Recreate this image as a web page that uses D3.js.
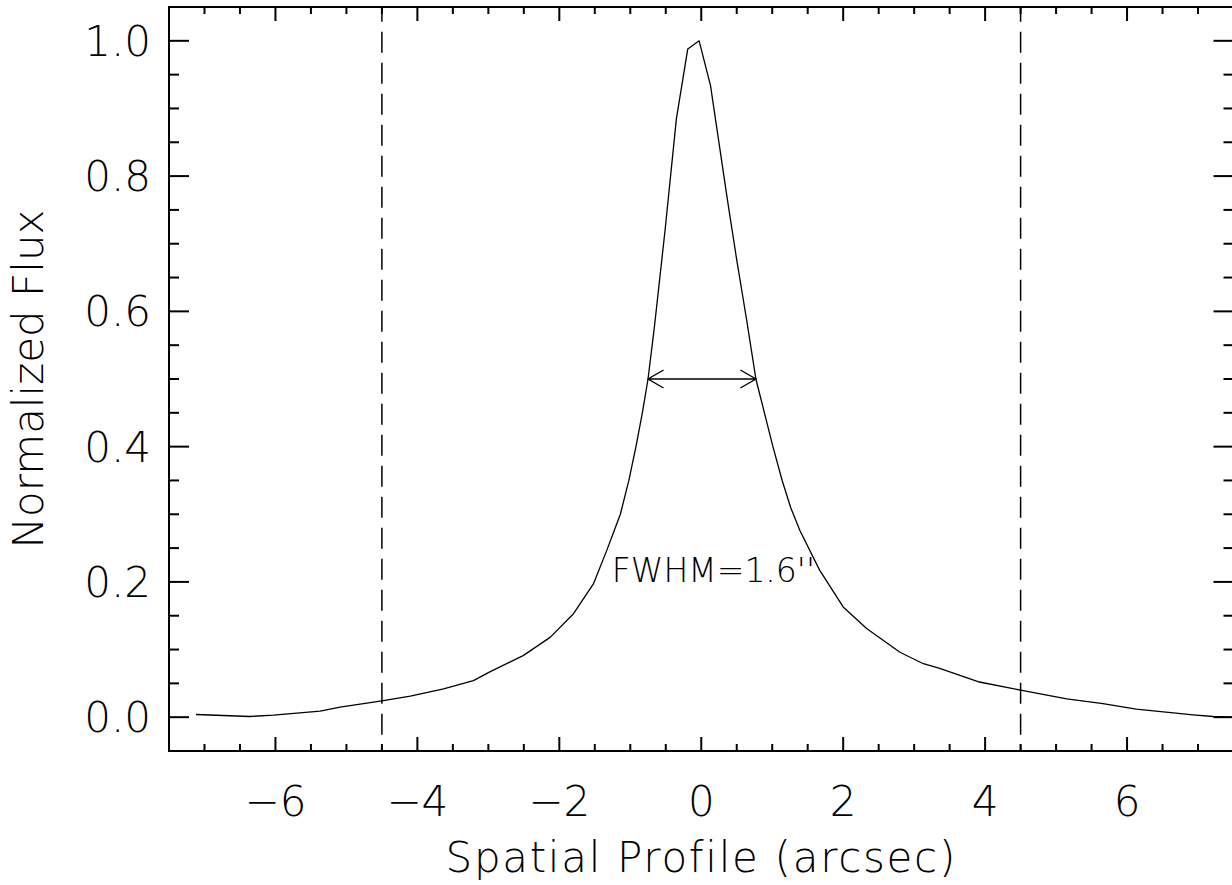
<!DOCTYPE html>
<html>
<head>
<meta charset="utf-8">
<script src="https://cdn.jsdelivr.net/npm/d3@7"></script>
<style>
  html, body { margin: 0; padding: 0; background: #fff; }
  svg { display: block; }
  text { font-family: "DejaVu Sans", sans-serif; font-weight: 200; fill: #000; }
</style>
</head>
<body>
<svg id="chart" width="1232" height="885"></svg>
<script>
// ---- data ----
const profileX = [-7.12, -6.36, -6.03, -5.37, -5.09, -4.50, -4.10, -3.63, -3.21, -2.98, -2.51, -2.13, -1.80, -1.52, -1.33, -1.23, -1.14, -1.02, -0.92, -0.83, -0.75, -0.66, -0.51, -0.35, -0.19, -0.03, 0.13, 0.37, 0.50, 0.64, 0.77, 0.89, 1.01, 1.14, 1.26, 1.39, 1.67, 2.00, 2.33, 2.80, 3.13, 3.36, 3.92, 4.50, 5.15, 5.66, 6.13, 6.93, 7.21, 7.47];
const profileY = [0.004, 0.001, 0.003, 0.009, 0.015, 0.024, 0.031, 0.042, 0.054, 0.067, 0.091, 0.118, 0.153, 0.197, 0.247, 0.275, 0.300, 0.350, 0.400, 0.450, 0.500, 0.577, 0.720, 0.885, 0.988, 1.000, 0.934, 0.764, 0.676, 0.587, 0.500, 0.450, 0.400, 0.350, 0.310, 0.276, 0.217, 0.163, 0.131, 0.096, 0.079, 0.072, 0.052, 0.040, 0.027, 0.020, 0.012, 0.0035, 0.001, 0.000];
const apertureEdges = [-4.5, 4.5];
const fwhmArrow = [-0.75, 0.77];
const fwhmLevel = 0.5;
const fwhmLabel = "FWHM=1.6''";
const fwhmLabelPos = [-1.26, 0.2];
const xMajorTicks = [-6, -4, -2, 0, 2, 4, 6];
const xTickLabels = ["\u22126", "\u22124", "\u22122", "0", "2", "4", "6"];
const yMajorTicks = [0.0, 0.2, 0.4, 0.6, 0.8, 1.0];
const yTickLabels = ["0.0", "0.2", "0.4", "0.6", "0.8", "1.0"];
const xMinorTicks = d3.range(-7, 7.01, 0.5).filter(v => Math.abs(v % 2) > 1e-6);
const yMinorTicks = d3.range(0.05, 1.0, 0.05).filter(v => Math.abs((v * 5) - Math.round(v * 5)) > 1e-6);
const xTitle = "Spatial Profile (arcsec)";
const yTitle = "Normalized Flux";

// ---- layout ----
const L = 169, R = 1233.5, T = 7, B = 751;
const svg = d3.select("#chart");
const x = d3.scaleLinear().domain([-7.5, 7.5]).range([L, R]);
const y = d3.scaleLinear().domain([-0.05, 1.05]).range([B, T]);

const xMajLen = 14, xMinLen = 7, yMajLen = 20, yMinLen = 10;

svg.append("clipPath").attr("id", "clip").append("rect")
  .attr("x", L).attr("y", T).attr("width", R - L).attr("height", B - T);

// profile curve
const pts = profileX.map((v, i) => [v, profileY[i]]);
svg.append("path")
  .datum(pts)
  .attr("clip-path", "url(#clip)")
  .attr("fill", "none")
  .attr("stroke", "#000")
  .attr("stroke-width", 1.3)
  .attr("stroke-linejoin", "round")
  .attr("d", d3.line().x(d => x(d[0])).y(d => y(d[1])));

// dashed aperture lines
svg.selectAll("line.ap").data(apertureEdges).join("line")
  .attr("class", "ap")
  .attr("x1", d => x(d)).attr("x2", d => x(d))
  .attr("y1", T).attr("y2", B)
  .attr("stroke", "#000").attr("stroke-width", 1.5)
  .attr("stroke-dasharray", "21,10")
  .attr("stroke-dashoffset", 6.3);

// FWHM arrow
const ax1 = x(fwhmArrow[0]), ax2 = x(fwhmArrow[1]), ay = y(fwhmLevel);
const ah = 15.5, aw = 9;
svg.append("path")
  .attr("fill", "none").attr("stroke", "#000").attr("stroke-width", 1.4)
  .attr("d", `M${ax1},${ay}L${ax2},${ay}` +
             `M${ax1 + ah},${ay - aw}L${ax1},${ay}L${ax1 + ah},${ay + aw}` +
             `M${ax2 - ah},${ay - aw}L${ax2},${ay}L${ax2 - ah},${ay + aw}`);

svg.append("text")
  .attr("x", x(fwhmLabelPos[0])).attr("y", y(fwhmLabelPos[1]))
  .attr("font-size", 33)
  .text(fwhmLabel);

// axes frame
svg.append("rect")
  .attr("x", L).attr("y", T).attr("width", R - L).attr("height", B - T)
  .attr("stroke", "#000").attr("stroke-width", 2).attr("fill", "none");

// ticks on all four sides, pointing inward
const tk = svg.append("g").attr("stroke", "#000").attr("stroke-width", 2);
xMajorTicks.forEach(v => {
  tk.append("line").attr("x1", x(v)).attr("x2", x(v)).attr("y1", B).attr("y2", B - xMajLen);
  tk.append("line").attr("x1", x(v)).attr("x2", x(v)).attr("y1", T).attr("y2", T + xMajLen);
});
xMinorTicks.forEach(v => {
  tk.append("line").attr("x1", x(v)).attr("x2", x(v)).attr("y1", B).attr("y2", B - xMinLen);
  tk.append("line").attr("x1", x(v)).attr("x2", x(v)).attr("y1", T).attr("y2", T + xMinLen);
});
yMajorTicks.forEach(v => {
  tk.append("line").attr("y1", y(v)).attr("y2", y(v)).attr("x1", L).attr("x2", L + yMajLen);
  tk.append("line").attr("y1", y(v)).attr("y2", y(v)).attr("x1", R).attr("x2", R - yMajLen);
});
yMinorTicks.forEach(v => {
  tk.append("line").attr("y1", y(v)).attr("y2", y(v)).attr("x1", L).attr("x2", L + yMinLen);
  tk.append("line").attr("y1", y(v)).attr("y2", y(v)).attr("x1", R).attr("x2", R - yMinLen);
});

// tick labels
svg.selectAll("text.xl").data(xMajorTicks).join("text")
  .attr("class", "xl")
  .attr("x", d => x(d)).attr("y", 816)
  .attr("text-anchor", "middle").attr("font-size", 42)
  .text((d, i) => xTickLabels[i]);

svg.selectAll("text.yl").data(yMajorTicks).join("text")
  .attr("class", "yl")
  .attr("x", 151).attr("y", d => y(d) + 15)
  .attr("text-anchor", "end").attr("font-size", 42)
  .text((d, i) => yTickLabels[i]);

// axis titles
svg.append("text")
  .attr("x", (L + R) / 2).attr("y", 872)
  .attr("text-anchor", "middle").attr("font-size", 42)
  .attr("letter-spacing", 1.7)
  .text(xTitle);

svg.append("text")
  .attr("transform", `translate(43, ${(T + B) / 2}) rotate(-90)`)
  .attr("text-anchor", "middle").attr("font-size", 42)
  .text(yTitle);
</script>
</body>
</html>
